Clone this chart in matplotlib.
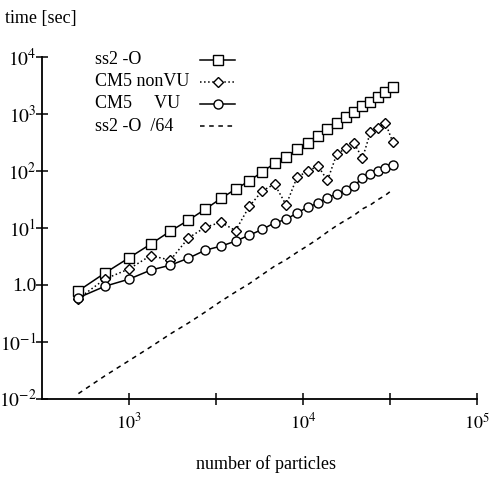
import matplotlib
matplotlib.use("Agg")
import matplotlib.pyplot as plt
from matplotlib.ticker import FixedLocator, NullLocator
from matplotlib.lines import Line2D

plt.rcParams['font.family'] = ['Liberation Serif', 'DejaVu Serif']
plt.rcParams['mathtext.fontset'] = 'stix'

# number of particles (n^3 for n = 8..32)
particles = [512, 729, 1000, 1331, 1728, 2197, 2744, 3375, 4096, 4913, 5832,
             6859, 8000, 9261, 10648, 12167, 13824, 15625, 17576, 19683,
             21952, 24389, 27000, 29791, 32768]

ss2_O = [0.78, 1.61, 2.96, 5.15, 8.72, 13.6, 21.2, 32.7, 47.6, 66.7, 96,
         135, 176, 238, 310, 407, 541, 698, 868, 1061, 1371, 1611, 1999,
         2390, 2992]

cm5_nonvu = [0.57, 1.26, 1.89, 3.24, 2.70, 6.64, 10.2, 12.5, 8.89, 23.8,
             44.4, 58.4, 25.2, 78.5, 97.5, 123, 67.8, 196, 248, 307, 165,
             475, 574, 689, 322]

cm5_vu = [0.59, 0.94, 1.25, 1.80, 2.20, 2.92, 4.04, 4.75, 5.81, 7.41, 9.34,
          12.2, 14.0, 18.3, 23.0, 27.0, 33.8, 39.3, 45.3, 53.9, 75.9, 86.4,
          100, 114, 127]

speedup = 64
ss2_scaled = [v / speedup for v in ss2_O]

labels = ["ss2 -O", "CM5 nonVU", "CM5     VU", "ss2 -O  /64"]

xticks_major = [1e3, 10**3.5, 1e4, 10**4.5, 1e5]
xtick_labels = [r"$10^{3}$", "", r"$10^{4}$", "", r"$10^{5}$"]
yticks = [1e-2, 1e-1, 1, 1e1, 1e2, 1e3, 1e4]
ytick_labels = [r"$10^{-2}$", r"$10^{-1}$", "1.0", r"$10^{1}$", r"$10^{2}$",
                r"$10^{3}$", r"$10^{4}$"]

W, H = 497, 478
fig = plt.figure(figsize=(W / 100, H / 100), dpi=100)
ax = fig.add_axes([42 / W, 1 - 398.5 / H, (477 - 42) / W, (398.5 - 57) / H])

styles = [
    dict(ls='-', marker='s', ms=6.8),
    dict(ls=':', marker='D', ms=5.2),
    dict(ls='-', marker='o', ms=6.5),
    dict(ls=(0, (3, 3)), marker=None, ms=0),
]
series = [ss2_O, cm5_nonvu, cm5_vu, ss2_scaled]

for data, st, lab in zip(series, styles, labels):
    ax.plot(particles, data, color='black', lw=1.1, ls=st['ls'],
            marker=st['marker'], ms=st['ms'], mfc='white', mec='black',
            mew=1.0, label=lab)

ax.set_xscale('log')
ax.set_yscale('log')
ax.set_xlim(10**2.5, 1e5)
ax.set_ylim(1e-2, 1e4)

ax.xaxis.set_major_locator(FixedLocator(xticks_major))
ax.set_xticklabels(xtick_labels)
ax.xaxis.set_minor_locator(NullLocator())
ax.yaxis.set_major_locator(FixedLocator(yticks))
ax.set_yticklabels(ytick_labels)
ax.yaxis.set_minor_locator(NullLocator())

for s in ['top', 'right']:
    ax.spines[s].set_visible(False)
for s in ['left', 'bottom']:
    ax.spines[s].set_linewidth(1.3)

ax.tick_params(axis='both', direction='inout', length=8, width=1.1)
ax.tick_params(axis='x', labelsize=13, pad=6)
ax.tick_params(axis='y', labelsize=14, pad=0)

fig.text(266 / W, 1 - 464 / H, "number of particles", fontsize=13,
         ha='center', va='center')
fig.text(5 / W, 1 - 18 / H, "time [sec]", fontsize=13, ha='left', va='center')

# manual legend: text left-aligned, handle to the right
for i, (st, lab) in enumerate(zip(styles, labels)):
    yy = 1 - (60 + 22 * i) / H
    fig.text(95 / W, yy, lab, fontsize=13, ha='left', va='center')
    fig.add_artist(Line2D([200 / W, 235 / W], [yy, yy], color='black',
                          lw=1.1, ls=st['ls'], transform=fig.transFigure))
    if st['marker']:
        fig.add_artist(Line2D([217.5 / W], [yy], color='black',
                              marker=st['marker'], ms=st['ms'], mfc='white',
                              mec='black', mew=1.0, ls='none',
                              transform=fig.transFigure))

fig.savefig("out.png", dpi=100)
